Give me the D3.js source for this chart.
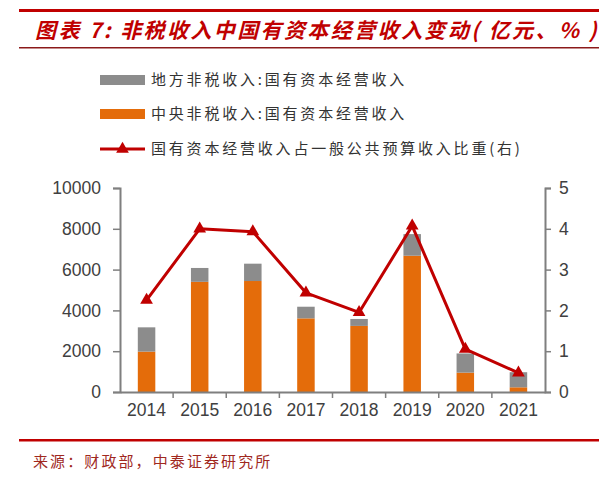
<!DOCTYPE html>
<html><head><meta charset="utf-8">
<script src="https://cdn.jsdelivr.net/npm/d3@7/dist/d3.min.js"></script>
<style>
body{margin:0;background:#fff;}
svg{display:block;}
</style></head>
<body>
<svg id="chart" width="613" height="480"></svg>
<script>
const years = ["2014","2015","2016","2017","2018","2019","2020","2021"];
const centralValues = [1980, 5400, 5440, 3610, 3240, 6680, 950, 230];
const localValues = [1190, 680, 850, 570, 340, 1060, 940, 740];
const ratioValues = [2.25, 4.0, 3.93, 2.43, 1.95, 4.07, 1.05, 0.47];
const leftTicks = [0, 2000, 4000, 6000, 8000, 10000];
const rightTicks = [0, 1, 2, 3, 4, 5];
const seriesNames = ["地方非税收入:国有资本经营收入", "中央非税收入:国有资本经营收入", "国有资本经营收入占一般公共预算收入比重(右)"];
const titleText = "图表 7: 非税收入中国有资本经营收入变动( 亿元、% )";
const sourceText = "来源：财政部，中泰证券研究所";

const svg = d3.select("#chart");
const grey = "#8c8c8c", orange = "#e46c0a", red = "#c00000", axisCol = "#7f7f7f";
const cjk = "'Noto Sans CJK SC', sans-serif";

// header
svg.append("rect").attr("x", 19).attr("y", 9).attr("width", 580).attr("height", 3).attr("fill", "#c00000");
svg.append("text").attr("x", 35).attr("y", 38).attr("font-family", cjk).attr("font-size", 21)
  .attr("letter-spacing", 2.4)
  .attr("font-weight", "bold").attr("font-style", "italic").attr("fill", "#c00000").text(titleText);
svg.append("rect").attr("x", 19).attr("y", 47).attr("width", 580).attr("height", 1.5).attr("fill", "#8b1a1a");

// footer
svg.append("rect").attr("x", 19).attr("y", 439).attr("width", 580).attr("height", 2.5).attr("fill", "#c00000");
svg.append("text").attr("x", 33).attr("y", 467).attr("font-family", cjk).attr("font-size", 15)
  .attr("letter-spacing", 2.1).attr("fill", "#a0281e").text(sourceText);

// scales
const x0 = 120, x1 = 545, yTop = 188, yBot = 392;
const x = d3.scaleBand().domain(years).range([x0, x1]).padding(0);
const yL = d3.scaleLinear().domain([0, 10000]).range([yBot, yTop]);
const yR = d3.scaleLinear().domain([0, 5]).range([yBot, yTop]);
const bw = 17.5;

// bars
const g = svg.append("g");
g.selectAll(".c").data(years).enter().append("rect")
  .attr("x", d => x(d) + x.bandwidth()/2 - bw/2)
  .attr("y", (d,i) => yL(centralValues[i]))
  .attr("width", bw)
  .attr("height", (d,i) => yL(0) - yL(centralValues[i]))
  .attr("fill", orange);
g.selectAll(".l").data(years).enter().append("rect")
  .attr("x", d => x(d) + x.bandwidth()/2 - bw/2)
  .attr("y", (d,i) => yL(centralValues[i] + localValues[i]))
  .attr("width", bw)
  .attr("height", (d,i) => yL(centralValues[i]) - yL(centralValues[i] + localValues[i]))
  .attr("fill", grey);

// axes
const styleAxis = sel => {
  sel.selectAll("path").attr("stroke", axisCol).attr("stroke-width", 2);
  sel.selectAll("line").attr("stroke", axisCol).attr("stroke-width", 1.5);
  sel.selectAll("text").attr("font-family", "'Liberation Sans', Arial, sans-serif").attr("font-size", 17.5).attr("fill", "#404040");
};
const axL = svg.append("g").attr("transform", `translate(${x0},0)`)
  .call(d3.axisLeft(yL).tickValues(leftTicks).tickSize(7).tickSizeOuter(7).tickPadding(12).tickFormat(d3.format("d")));
styleAxis(axL);
const axR = svg.append("g").attr("transform", `translate(${x1},0)`)
  .call(d3.axisRight(yR).tickValues(rightTicks).tickSize(6).tickSizeOuter(6).tickPadding(8).tickFormat(d3.format("d")));
styleAxis(axR);
const axB = svg.append("g").attr("transform", `translate(0,${yBot})`)
  .call(d3.axisBottom(x).tickSize(0).tickSizeOuter(0).tickPadding(12));
styleAxis(axB);
axB.selectAll(".tick text").attr("dy", "0.71em");
// category boundary ticks
axB.selectAll(".sep").data(years.slice(1)).enter().append("line")
  .attr("x1", d => x(d)).attr("x2", d => x(d)).attr("y1", 0).attr("y2", 6)
  .attr("stroke", axisCol).attr("stroke-width", 1.5);

// line
const line = d3.line().x((d,i) => x(years[i]) + x.bandwidth()/2).y(d => yR(d));
svg.append("path").datum(ratioValues).attr("d", line).attr("fill", "none")
  .attr("stroke", red).attr("stroke-width", 3).attr("stroke-linejoin", "round");
const tri = d3.symbol().type(d3.symbolTriangle).size(70);
svg.selectAll(".m").data(ratioValues).enter().append("path")
  .attr("d", tri)
  .attr("transform", (d,i) => `translate(${x(years[i]) + x.bandwidth()/2},${yR(d)})`)
  .attr("fill", red);

// legend
const lg = svg.append("g");
const lx = 100, lyArr = [80, 114, 149];
lg.append("rect").attr("x", lx).attr("y", lyArr[0]-5).attr("width", 45).attr("height", 10).attr("fill", grey);
lg.append("rect").attr("x", lx).attr("y", lyArr[1]-5).attr("width", 45).attr("height", 10).attr("fill", orange);
lg.append("line").attr("x1", lx).attr("x2", lx+45).attr("y1", lyArr[2]).attr("y2", lyArr[2]).attr("stroke", red).attr("stroke-width", 3);
lg.append("path").attr("d", tri).attr("transform", `translate(${lx+22.5},${lyArr[2]})`).attr("fill", red);
seriesNames.forEach((n, i) => {
  lg.append("text").attr("x", 151).attr("y", lyArr[i]).attr("dy", "0.35em")
    .attr("font-family", cjk).attr("font-size", 15).attr("letter-spacing", 2.8).attr("fill", "#333").text(n);
});
</script>
</body></html>
